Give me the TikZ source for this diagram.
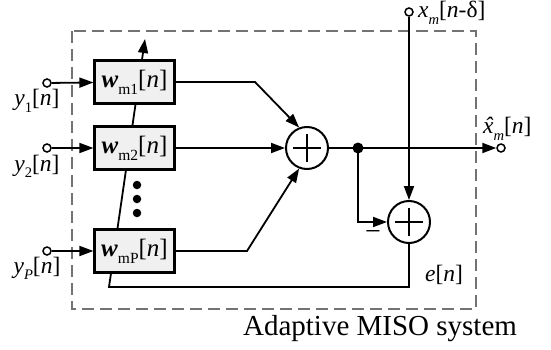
\documentclass[tikz,border=0pt]{standalone}
\usepackage{fontspec}
\setmainfont{Liberation Serif}
\usepackage{graphicx}
\usetikzlibrary{arrows.meta,backgrounds}
\newcommand{\vi}[1]{\textit{#1}}
\newcommand{\sbs}[1]{\raisebox{-0.28em}{\scalebox{0.62}{#1}}}
\newcommand{\xhat}{\vi{x}\hspace{-0.2em}\makebox[0pt][c]{\vi{\char"02C6}}\hspace{0.2em}}
\tikzset{
  arr/.style={line width=1.8pt,-{Triangle[length=14pt,width=10pt]}},
  ln/.style={line width=1.8pt},
  wbox/.style={draw,fill=black!6,line width=2.2pt,minimum width=80pt,minimum height=43pt,inner sep=0pt,font=\fontsize{25}{25}\selectfont},
  sumnode/.style={draw,circle,line width=2pt,minimum size=42pt,inner sep=0pt},
  term/.style={draw,circle,line width=1.5pt,fill=white,minimum size=8pt,inner sep=0pt},
  lab/.style={inner sep=0pt,font=\fontsize{23.5}{23.5}\selectfont},
  caplab/.style={inner sep=0pt,font=\fontsize{29}{29}\selectfont},
  dotnode/.style={circle,fill=black,inner sep=0pt,minimum size=#1},
  frame/.style={draw=black!55,line width=1.8pt,dash pattern=on 12pt off 6pt}
}
\begin{document}
\begin{tikzpicture}[x=1pt,y=-1pt]
\useasboundingbox (0,0) rectangle (551,350);
% frame
\draw[frame] (72,31) rectangle (476,309);
% filters
\node[wbox] (w1) at (134.5,82) {\textbf{\textit{w}}\sbs{m1}[\vi{n}]};
\node[wbox] (w2) at (134.5,148) {\textbf{\textit{w}}\sbs{m2}[\vi{n}]};
\node[wbox] (w3) at (134.5,251) {\textbf{\textit{w}}\sbs{mP}[\vi{n}]};
% vertical dots
\node[dotnode=8.5pt] (d1) at (137,185) {};
\node[dotnode=8.5pt] (d2) at (137,199) {};
\node[dotnode=8.5pt] (d3) at (137,213) {};
% inputs
\node[term] (in1) at (47,83) {};
\node[term] (in2) at (47,148) {};
\node[term] (in3) at (47,251) {};
\node[lab,anchor=base] (ly1) at (37,106) {\vi{y}\sbs{1}[\vi{n}]};
\node[lab,anchor=base] (ly2) at (37,171) {\vi{y}\sbs{2}[\vi{n}]};
\node[lab,anchor=base] (ly3) at (37,273) {\vi{y}\sbs{\vi{P}}[\vi{n}]};
% summers
\node[sumnode] (s1) at (307,148) {};
\node[sumnode] (s2) at (409,222) {};
\draw[ln] (s1.center) +(-14,0) -- +(14,0) +(0,-14) -- +(0,14);
\draw[ln] (s2.center) +(-14,0) -- +(14,0) +(0,-14) -- +(0,14);
% branch dot
\node[dotnode=11pt] (bd) at (358,148) {};
% terminals
\node[term] (xin) at (409,12) {};
\node[term] (out) at (501,148) {};
\node[lab,anchor=base west] (lxin) at (418,18) {\vi{x}\sbs{\vi{m}}[\vi{n}-δ]};
\node[lab,anchor=base west] (lout) at (483,134) {\xhat\sbs{\vi{m}}[\vi{n}]};
\node[lab,anchor=base west] (le) at (425,281) {\vi{e}[\vi{n}]};
\node[lab,font=\fontsize{28}{28}\selectfont] (minus) at (373,236) {−};
\node[caplab,anchor=base] (cap) at (380,335) {Adaptive MISO system};
% connectors
\draw[arr] (in1) -- (w1);
\draw[arr] (in2) -- (w2);
\draw[arr] (in3) -- (w3);
\coordinate (k1) at (255,82);
\coordinate (k3) at (247,251);
\draw[arr] (w1.east) -- (k1) -- (s1.111);
\draw[arr] (w2) -- (s1);
\draw[arr] (w3.east) -- (k3) -- (s1.249);
\draw[arr] (s1) -- (out);
\draw[arr] (bd.center) |- (s2);
\draw[arr] (xin) -- (s2);
\coordinate (fb) at (109,287);
\coordinate (adapt) at (145,39);
\begin{pgfonlayer}{background}
\draw[arr] (s2.south) |- (fb) -- (adapt);
\end{pgfonlayer}
\end{tikzpicture}
\end{document}
